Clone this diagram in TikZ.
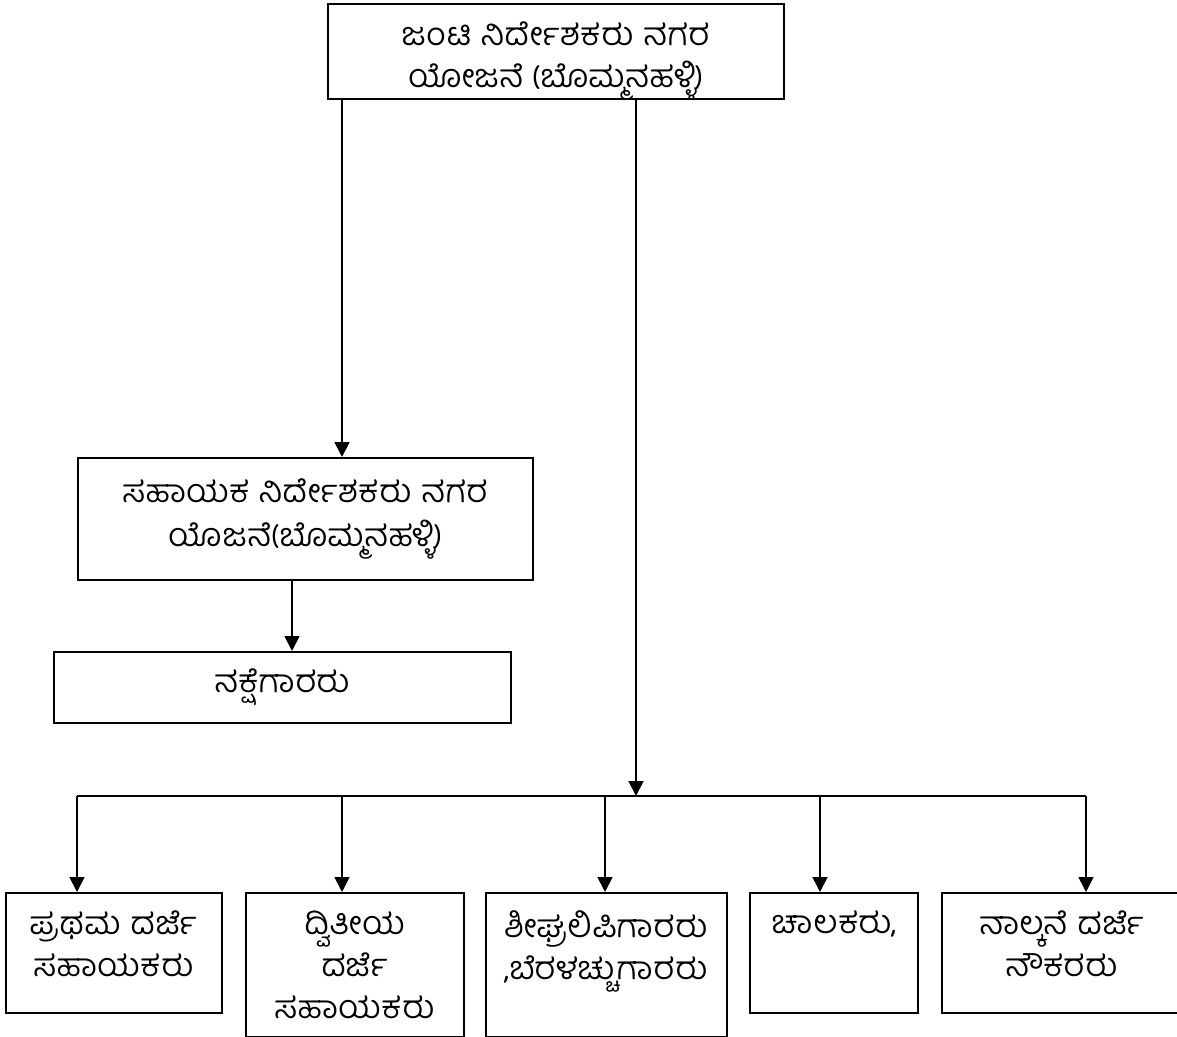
\documentclass[tikz,border=0pt]{standalone}
\usepackage{fontspec}
\newfontfamily\kannada[Script=Kannada]{Baloo Tamma 2}
\usetikzlibrary{positioning,arrows.meta,calc}

\begin{document}
\begin{tikzpicture}
[   x=0.025cm, y=-0.025cm,
    box/.style={draw=black, line width=1.2pt, rectangle, anchor=north west, inner sep=0pt, align=center, font=\kannada\fontsize{22}{31}\selectfont},
    boxtext/.style={anchor=north, align=center, inner sep=0pt, yshift=-13pt, font=\kannada\fontsize{22}{30}\selectfont},
    link/.style={line width=1.2pt, -{Triangle[length=3.7mm,width=3.7mm]}}, ]
    \useasboundingbox (0,0) rectangle (1177,1037);

    % top of the chart
    \node[box, minimum width=11.4cm, minimum height=2.375cm, label={[boxtext]north:ಜಂಟಿ ನಿರ್ದೇಶಕರು ನಗರ\\ಯೋಜನೆ (ಬೊಮ್ಮನಹಳ್ಳಿ)}] (jd) at (327,3) {};
    \node[box, minimum width=11.375cm, minimum height=3.05cm] (ad) at (77,457) {ಸಹಾಯಕ ನಿರ್ದೇಶಕರು ನಗರ\\ಯೊಜನೆ(ಬೊಮ್ಮನಹಳ್ಳಿ)};
    \node[box, minimum width=11.425cm, minimum height=1.775cm] (nk) at (53,651) {ನಕ್ಷೆಗಾರರು};

    % bottom row
    \node[box, minimum width=5.4cm, minimum height=3cm, label={[boxtext]north:ಪ್ರಥಮ ದರ್ಜೆ\\ಸಹಾಯಕರು}] (b-1) at (5,892) {};
    \node[box, minimum width=5.45cm, minimum height=3.6cm, label={[boxtext]north:ದ್ವಿತೀಯ\\ದರ್ಜೆ\\ಸಹಾಯಕರು}] (b-2) at (245,892) {};
    \node[box, minimum width=6.025cm, minimum height=3.6cm, label={[boxtext]north:ಶೀಘ್ರಲಿಪಿಗಾರರು\\{,}ಬೆರಳಚ್ಚುಗಾರರು}] (b-3) at (485,892) {};
    \node[box, minimum width=4.2cm, minimum height=3cm, label={[boxtext]north:ಚಾಲಕರು{,}}] (b-4) at (749,892) {};
    \node[box, minimum width=6cm, minimum height=3cm, label={[boxtext]north:ನಾಲ್ಕನೆ ದರ್ಜೆ\\ನೌಕರರು}] (b-5) at (941,892) {};

    \coordinate (jl) at (342,98);
    \coordinate (jr) at (636,98);
    \coordinate (al) at (292,579);
    \coordinate (bar-l) at (77,796);
    \coordinate (bar-r) at (1086,796);

    \draw[link] (jl) -- (jl |- ad.north);
    \draw[link] (al) -- (al |- nk.north);
    \draw[link] (jr) -- (jr |- bar-l);
    \draw[line width=1.2pt] (bar-l) -- (bar-r);

    \foreach \x/\n in {77/1, 342/2, 605/3, 820/4, 1086/5}
    {   \draw[link] (\x,796) -- (\x,796 |- b-\n.north);
    }

\end{tikzpicture}
\end{document}
